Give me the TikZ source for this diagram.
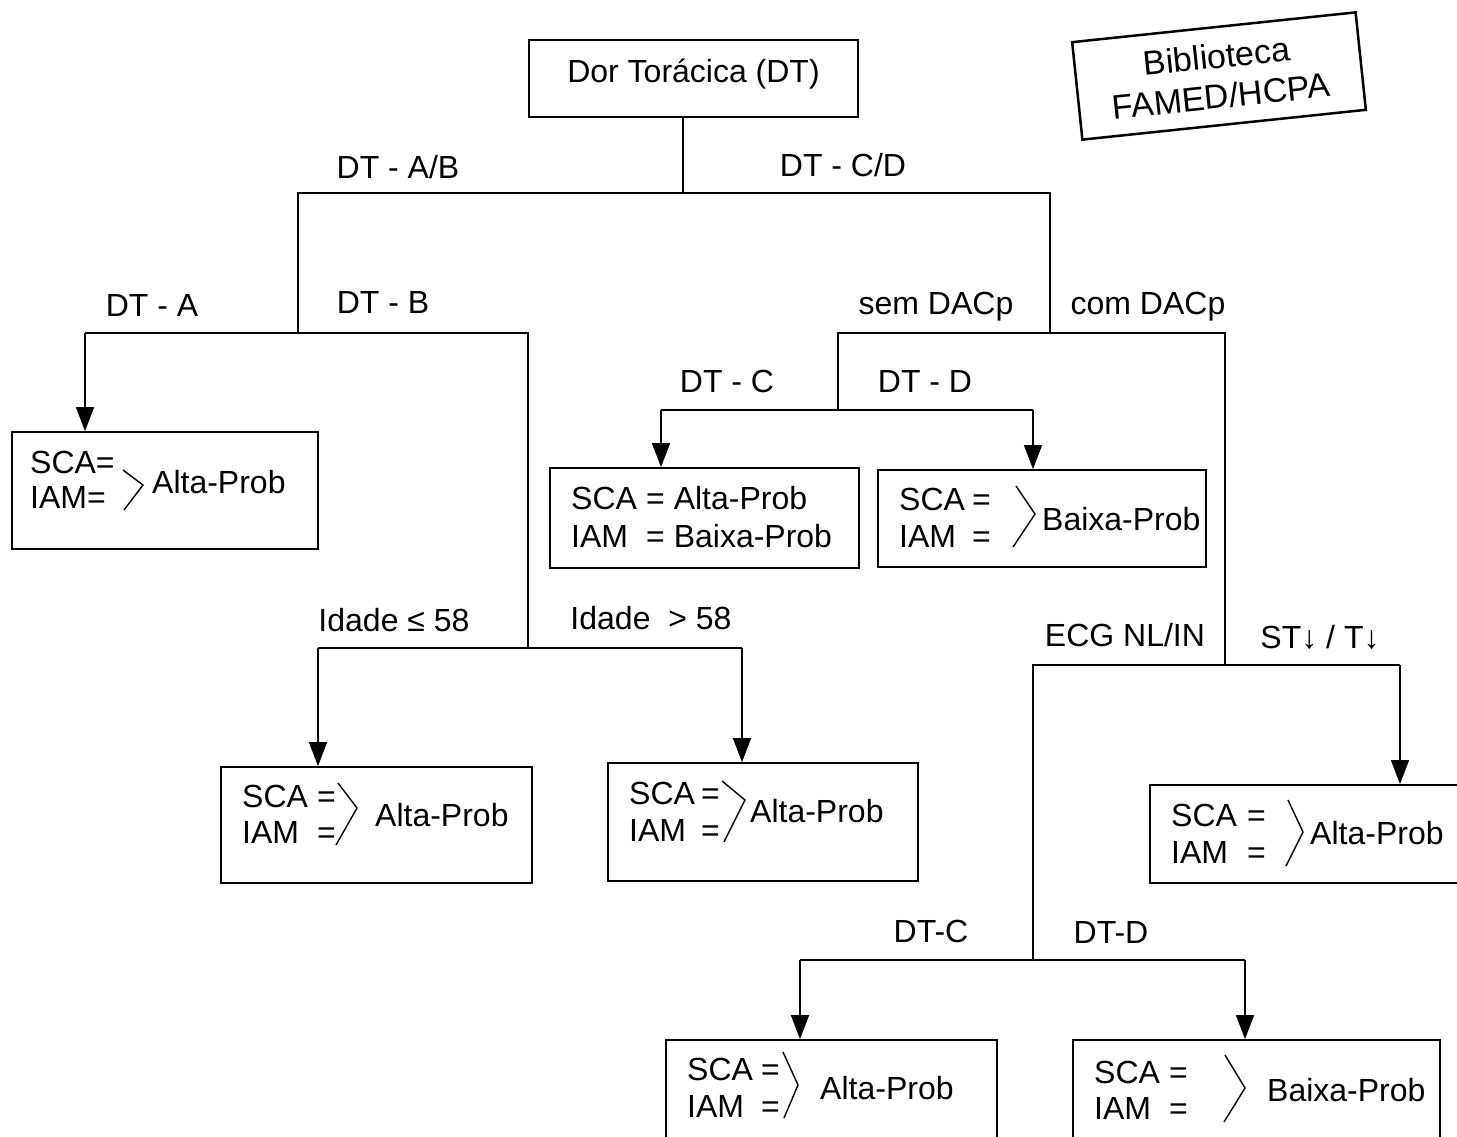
\documentclass[tikz,border=0pt]{standalone}
\usepackage{fontspec}
\setmainfont{Liberation Sans}
\usetikzlibrary{arrows.meta}
\newcommand\eqrow[2]{\makebox[#1][l]{#2}=}
\begin{document}
\begin{tikzpicture}[x=1pt,y=-1pt,
  font=\fontsize{32}{38}\selectfont,
  box/.style={draw, line width=1.8pt, inner sep=0pt},
  lbl/.style={inner sep=0pt, text height=23pt, text depth=0pt},
  txt/.style={lbl, anchor=west},
  link/.style={line width=1.5pt},
  arr/.style={link, -{Triangle[length=24pt,width=18pt]}},
  brk/.style={line width=1.4pt, line join=miter},
]
\useasboundingbox (0,0) rectangle (1457,1137);

% stamp
\node[draw, line width=2.5pt, rotate=6, minimum width=285pt, minimum height=98pt,
      align=center, font=\fontsize{34}{40}\selectfont] (stamp) at (1219,76)
      {Biblioteca\\FAMED/HCPA};

% boxes
\node[box, minimum width=329pt, minimum height=77pt, text height=23pt, text depth=15pt]
  (root) at (693.5,78.5) {Dor Torácica (DT)};
\node[box, minimum width=306pt, minimum height=117pt] (b1) at (165,490.5) {};
\node[box, minimum width=311pt, minimum height=116pt] (b2) at (376.5,825) {};
\node[box, minimum width=310pt, minimum height=118pt] (b3) at (763,822) {};
\node[box, minimum width=309pt, minimum height=100pt] (b4) at (704.5,518) {};
\node[box, minimum width=328pt, minimum height=97pt]  (b5) at (1042,518.5) {};
\node[box, minimum width=320pt, minimum height=98pt]  (b6) at (1310,834) {};
\node[box, minimum width=331pt, minimum height=110pt] (b7) at (831.5,1095) {};
\node[box, minimum width=367pt, minimum height=110pt] (b8) at (1256.5,1095) {};

% box contents
\node[txt] (b1s) at (30,462) {SCA=};
\node[txt] (b1i) at (30,497) {IAM=};
\draw[brk] (123,470) -- (143,485) -- (124,510);
\node[txt] (b1t) at (152,482) {Alta-Prob};

\node[txt] (b2s) at (242,796) {\eqrow{75pt}{SCA}};
\node[txt] (b2i) at (242,832) {\eqrow{75pt}{IAM}};
\draw[brk] (338,783) -- (357,808) -- (336,845);
\node[txt] (b2t) at (375,815) {Alta-Prob};

\node[txt] (b3s) at (629,793) {\eqrow{72pt}{SCA}};
\node[txt] (b3i) at (629,830) {\eqrow{72pt}{IAM}};
\draw[brk] (722,781) -- (745,800) -- (724,842);
\node[txt] (b3t) at (750,811) {Alta-Prob};

\node[txt] (b4s) at (571,498) {\eqrow{75pt}{SCA} Alta-Prob};
\node[txt] (b4i) at (571,536) {\eqrow{75pt}{IAM} Baixa-Prob};

\node[txt] (b5s) at (899,499) {\eqrow{73pt}{SCA}};
\node[txt] (b5i) at (899,536) {\eqrow{73pt}{IAM}};
\draw[brk] (1016,486) -- (1035,514) -- (1013,547);
\node[txt] (b5t) at (1042,519) {Baixa-Prob};

\node[txt] (b6s) at (1171,815) {\eqrow{76pt}{SCA}};
\node[txt] (b6i) at (1171,852) {\eqrow{76pt}{IAM}};
\draw[brk] (1288,800) -- (1303,832) -- (1286,866);
\node[txt] (b6t) at (1310,833) {Alta-Prob};

\node[txt] (b7s) at (687,1069) {\eqrow{74pt}{SCA}};
\node[txt] (b7i) at (687,1106) {\eqrow{74pt}{IAM}};
\draw[brk] (783,1052) -- (798,1085) -- (784,1118);
\node[txt] (b7t) at (820,1088) {Alta-Prob};

\node[txt] (b8s) at (1094,1072) {\eqrow{75pt}{SCA}};
\node[txt] (b8i) at (1094,1108) {\eqrow{75pt}{IAM}};
\draw[brk] (1225,1055) -- (1245,1088) -- (1224,1122);
\node[txt] (b8t) at (1267,1090) {Baixa-Prob};

% branch labels
\node[lbl] (lAB) at (398,167) {DT - A/B};
\node[lbl] (lCD) at (843,165) {DT - C/D};
\node[lbl] (lA)  at (152,305) {DT - A};
\node[lbl] (lB)  at (383,302) {DT - B};
\node[lbl] (lsem) at (936,303) {sem DACp};
\node[lbl] (lcom) at (1148,303) {com DACp};
\node[lbl] (lC)  at (727,381) {DT - C};
\node[lbl] (lD)  at (925,381) {DT - D};
\node[lbl] (lle) at (394,620) {Idade ≤ 58};
\node[lbl] (lgt) at (651,618) {Idade \ > 58};
\node[lbl] (lecg) at (1125,635) {ECG NL/IN};
\node[lbl] (lst) at (1320,637) {ST↓ / T↓};
\node[lbl] (lC2) at (931,931) {DT-C};
\node[lbl] (lD2) at (1111,932) {DT-D};

% junction points
\coordinate (s0)  at (683,193);
\coordinate (sAB) at (298,193);
\coordinate (sCD) at (1050,193);
\coordinate (tAB) at (298,333);
\coordinate (tCD) at (1050,333);
\coordinate (fA)  at (85,333);
\coordinate (fB)  at (528,333);
\coordinate (gB)  at (528,648);
\coordinate (fL)  at (318,648);
\coordinate (fR)  at (742,648);
\coordinate (fS)  at (838,333);
\coordinate (gS)  at (838,410);
\coordinate (fC)  at (1225,333);
\coordinate (gC)  at (1225,665);
\coordinate (fDC) at (661,410);
\coordinate (fDD) at (1033,410);
\coordinate (fE)  at (1033,665);
\coordinate (gE)  at (1033,960);
\coordinate (fST) at (1400,665);
\coordinate (fC2) at (800,960);
\coordinate (fD2) at (1245,960);

% connectors
\draw[link] (root.south -| s0) -- (s0);
\draw[link] (tAB) -- (sAB) -- (sCD) -- (tCD);
\draw[link] (fA) -- (fB) -- (gB);
\draw[arr] (fA) -- (fA |- b1.north);
\draw[link] (fL) -- (fR);
\draw[arr] (fL) -- (fL |- b2.north);
\draw[arr] (fR) -- (fR |- b3.north);
\draw[link] (gS) -- (fS) -- (fC) -- (gC);
\draw[link] (fDC) -- (fDD);
\draw[arr] (fDC) -- (fDC |- b4.north);
\draw[arr] (fDD) -- (fDD |- b5.north);
\draw[link] (gE) -- (fE) -- (fST);
\draw[arr] (fST) -- (fST |- b6.north);
\draw[link] (fC2) -- (fD2);
\draw[arr] (fC2) -- (fC2 |- b7.north);
\draw[arr] (fD2) -- (fD2 |- b8.north);
\end{tikzpicture}
\end{document}
